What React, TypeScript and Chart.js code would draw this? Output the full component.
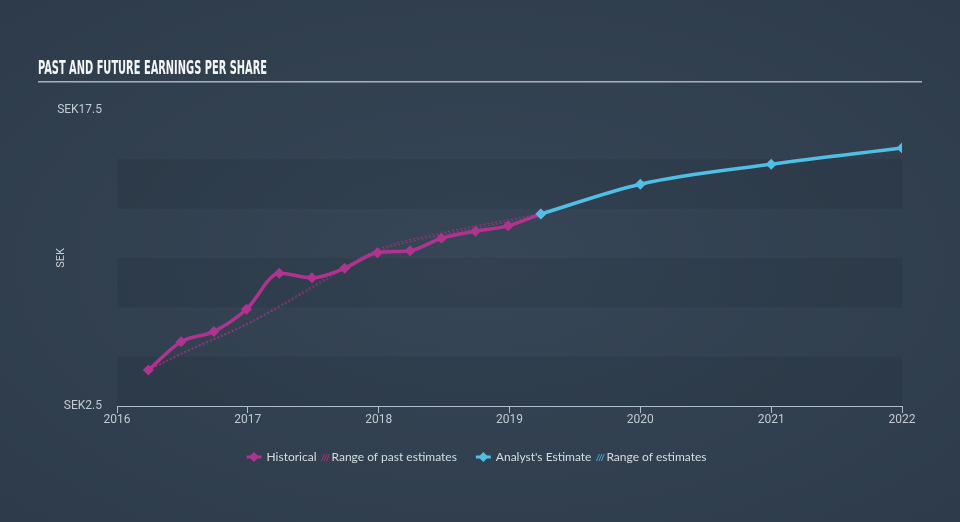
import React, { useEffect, useRef } from "react";
import { Chart, registerables } from "chart.js";

Chart.register(...registerables);

const titleText = "PAST AND FUTURE EARNINGS PER SHARE";
const yAxisTitle = "SEK";
const yTickPrefix = "SEK";
const yTickValues = [2.5, 17.5];
const yBandEdges = [2.5, 5, 7.5, 10, 12.5, 15, 17.5];
const xYears = [2016, 2017, 2018, 2019, 2020, 2021, 2022];

const historicalDates = [2016.24, 2016.49, 2016.74, 2016.99, 2017.24, 2017.49, 2017.74, 2017.99, 2018.24, 2018.48, 2018.74, 2018.99, 2019.24];
const historicalEps = [4.32, 5.76, 6.27, 7.4, 9.23, 9.0, 9.48, 10.27, 10.37, 11.0, 11.36, 11.63, 12.23];

const pastEstDates = [2016.24, 2016.5, 2017.0, 2017.5, 2017.75, 2018.0, 2018.5, 2019.0, 2019.24];
const pastEstLow = [4.32, 5.15, 6.65, 8.5, 9.5, 10.35, 11.2, 11.85, 12.2];
const pastEstHigh = [4.32, 5.2, 6.7, 8.6, 9.6, 10.45, 11.3, 11.95, 12.25];

const estimateDates = [2019.24, 2020.0, 2021.0, 2022.0];
const estimateEps = [12.23, 13.74, 14.75, 15.57];

const legendLabels = ["Historical", "Range of past estimates", "Analyst's Estimate", "Range of estimates"];

const histColor = "#b0338f";
const estColor = "#4fbfe6";
const textColor = "#c3cad1";

const toPoints = (xs: number[], ys: number[]) => xs.map((x, i) => ({ x, y: ys[i] }));

const bandsPlugin = {
  id: "bands",
  beforeDatasetsDraw(chart: any) {
    const { ctx, chartArea, scales } = chart;
    const y = scales.y;
    ctx.save();
    for (let i = 0; i < yBandEdges.length - 1; i++) {
      if (i % 2 !== 0) continue;
      const top = y.getPixelForValue(yBandEdges[i + 1]);
      const bottom = y.getPixelForValue(yBandEdges[i]);
      ctx.fillStyle = "rgba(10,20,30,0.1)";
      ctx.fillRect(chartArea.left, top, chartArea.right - chartArea.left, bottom - top);
    }
    ctx.restore();
  },
};

const titlePlugin = {
  id: "titleDraw",
  afterDraw(chart: any) {
    const { ctx } = chart;
    ctx.save();
    ctx.font = 'bold 19px "Liberation Sans Narrow", "DejaVu Sans Condensed", sans-serif';
    const w = ctx.measureText(titleText).width;
    const sx = 229 / w;
    ctx.fillStyle = "#f3f5f7";
    ctx.textBaseline = "alphabetic";
    ctx.translate(38, 74);
    ctx.scale(sx, 1);
    ctx.fillText(titleText, 0, 0);
    ctx.restore();
    ctx.save();
    ctx.fillStyle = "#a9b1ba";
    ctx.fillRect(38, 81, 884, 1.5);
    ctx.restore();
  },
};

const yLabelPlugin = {
  id: "yLabels",
  afterDraw(chart: any) {
    const { ctx, scales } = chart;
    const y = scales.y;
    ctx.save();
    ctx.font = '12px "Roboto", sans-serif';
    ctx.fillStyle = textColor;
    ctx.textAlign = "right";
    ctx.textBaseline = "middle";
    yTickValues.forEach((v) => {
      ctx.fillText(yTickPrefix + v, 102, y.getPixelForValue(v));
    });
    ctx.restore();
  },
};

const legendPlugin = {
  id: "legendDraw",
  afterDraw(chart: any) {
    const { ctx } = chart;
    ctx.save();
    ctx.font = '12px "Lato", "Open Sans", sans-serif';
    const items = [
      { label: legendLabels[0], kind: "line", color: histColor },
      { label: legendLabels[1], kind: "hatch", color: histColor },
      { label: legendLabels[2], kind: "line", color: estColor },
      { label: legendLabels[3], kind: "hatch", color: estColor },
    ];
    const lineW = 15, lineGap = 5, hatchW = 7, hatchGap = 3, afterText = 5, groupGap = 19;
    let total = 0;
    items.forEach((it, i) => {
      total += it.kind === "line" ? lineW + lineGap : hatchW + hatchGap;
      total += ctx.measureText(it.label).width;
      if (i === 0 || i === 2) total += afterText;
      if (i === 1) total += groupGap;
    });
    let x = 476.5 - total / 2;
    const yc = 457;
    items.forEach((it, i) => {
      if (it.kind === "line") {
        ctx.strokeStyle = it.color;
        ctx.lineWidth = 3;
        ctx.beginPath();
        ctx.moveTo(x, yc);
        ctx.lineTo(x + lineW, yc);
        ctx.stroke();
        ctx.fillStyle = it.color;
        const cx = x + lineW / 2;
        ctx.beginPath();
        ctx.moveTo(cx, yc - 5);
        ctx.lineTo(cx + 5, yc);
        ctx.lineTo(cx, yc + 5);
        ctx.lineTo(cx - 5, yc);
        ctx.closePath();
        ctx.fill();
        x += lineW + lineGap;
      } else {
        ctx.strokeStyle = it.color;
        ctx.globalAlpha = 0.8;
        ctx.lineWidth = 1;
        for (let k = 0; k < 3; k++) {
          ctx.beginPath();
          ctx.moveTo(x + k * 2.5, yc + 4);
          ctx.lineTo(x + k * 2.5 + 3, yc - 3);
          ctx.stroke();
        }
        ctx.globalAlpha = 1;
        x += hatchW + hatchGap;
      }
      ctx.fillStyle = "#d7dce1";
      ctx.textBaseline = "middle";
      ctx.textAlign = "left";
      ctx.fillText(it.label, x, yc);
      x += ctx.measureText(it.label).width;
      if (i === 0 || i === 2) x += afterText;
      if (i === 1) x += groupGap;
    });
    ctx.restore();
  },
};

export default function App() {
  const ref = useRef<HTMLCanvasElement | null>(null);
  useEffect(() => {
    if (!ref.current) return;
    const chart = new Chart(ref.current, {
      type: "line",
      data: {
        datasets: [
          {
            label: "Analyst's Estimate",
            data: toPoints(estimateDates, estimateEps),
            borderColor: estColor,
            backgroundColor: estColor,
            borderWidth: 3.5,
            pointStyle: "rectRot",
            pointRadius: 5.5,
            pointBorderWidth: 0,
            cubicInterpolationMode: "monotone",
            order: 0,
          },
          {
            label: "Historical",
            data: toPoints(historicalDates, historicalEps),
            borderColor: histColor,
            backgroundColor: histColor,
            borderWidth: 3.5,
            pointStyle: "rectRot",
            pointRadius: 5.5,
            pointBorderWidth: 0,
            cubicInterpolationMode: "monotone",
            order: 1,
          },
          {
            label: "Past estimates low",
            data: toPoints(pastEstDates, pastEstLow),
            borderColor: "rgba(176,51,143,0.85)",
            borderWidth: 1,
            borderDash: [2, 2],
            pointRadius: 0,
            cubicInterpolationMode: "monotone",
            order: 2,
          },
          {
            label: "Past estimates high",
            data: toPoints(pastEstDates, pastEstHigh),
            borderColor: "rgba(176,51,143,0.85)",
            borderWidth: 1,
            borderDash: [2, 2],
            pointRadius: 0,
            cubicInterpolationMode: "monotone",
            order: 3,
          },
        ],
      },
      options: {
        animation: false,
        responsive: false,
        devicePixelRatio: 1,
        layout: { padding: { left: 55, right: 58, top: 110, bottom: 0 } },
        plugins: { legend: { display: false }, tooltip: { enabled: false } },
        scales: {
          x: {
            type: "linear",
            min: 2016,
            max: 2022,
            afterBuildTicks: (s: any) => {
              s.ticks = xYears.map((v) => ({ value: v }));
            },
            afterFit: (s: any) => {
              s.height = 116;
            },
            ticks: {
              callback: (v: any) => String(v),
              color: textColor,
              font: { family: "Roboto", size: 12 },
              padding: 0,
              maxRotation: 0,
              autoSkip: false,
            },
            grid: { display: true, drawOnChartArea: false, drawTicks: true, tickLength: 7, color: "#aebccb" },
            border: { display: true, color: "#aebccb", width: 1 },
          },
          y: {
            type: "linear",
            min: 2.5,
            max: 17.5,
            afterBuildTicks: (s: any) => {
              s.ticks = yTickValues.map((v) => ({ value: v }));
            },
            afterFit: (s: any) => {
              s.width = 62;
            },
            ticks: {
              display: false,
            },
            grid: { display: false },
            border: { display: false },
            title: {
              display: true,
              text: yAxisTitle,
              color: textColor,
              font: { family: "Roboto", size: 11 },
              padding: 0,
            },
          },
        },
      },
      plugins: [bandsPlugin, titlePlugin, yLabelPlugin, legendPlugin],
    } as any);
    return () => chart.destroy();
  }, []);
  return (
    <div
      style={{
        position: "fixed",
        left: 0,
        top: 0,
        width: 960,
        height: 522,
        background: "radial-gradient(ellipse at 50% 50%, #374656 0%, #2d3b4a 100%)",
      }}
    >
      <canvas ref={ref} width={960} height={522} style={{ width: 960, height: 522, display: "block" }} />
    </div>
  );
}
